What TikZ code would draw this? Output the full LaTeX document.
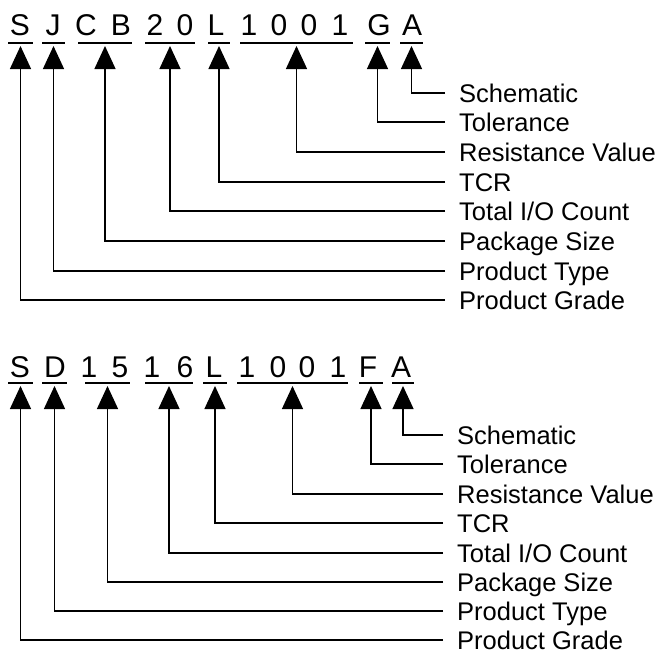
\documentclass[tikz,border=0pt]{standalone}
\usepackage{fontspec}
\setmainfont{Liberation Sans}
\usetikzlibrary{arrows.meta}

\begin{document}
\begin{tikzpicture}[x=1pt,y=-1pt,
  code/.style={font=\fontsize{30}{30}\selectfont,anchor=base,inner sep=0pt},
  lab/.style={font=\fontsize{25.5}{25.5}\selectfont,anchor=west,inner xsep=14pt,inner ysep=0pt,text height=18pt,text depth=0pt},
  bar/.style={line width=2.2pt},
  lead/.style={line width=1.3pt,-{Triangle[length=23pt,width=21pt]}}]
\useasboundingbox (0,0) rectangle (663,651);

% upper part number
\foreach \ch/\x [count=\i] in {S/20,J/53,C/86,B/121,2/155,0/185,L/216,1/249,0/279,0/309,1/340,G/379,A/412}
  \node[code] (u\i) at (\x,35) {\ch};

\draw[bar] (8,43) -- coordinate (ug1) (33,43);
\draw[bar] (42,43) -- coordinate (ug2) (65,43);
\draw[bar] (78,43) -- coordinate (ug3) (132,43);
\draw[bar] (145,43) -- coordinate (ug4) (195,43);
\draw[bar] (208,43) -- coordinate (ug5) (230,43);
\draw[bar] (240,43) -- coordinate (ug6) (353,43);
\draw[bar] (365,43) -- coordinate (ug7) (390,43);
\draw[bar] (400,43) -- coordinate (ug8) (423,43);

\node[lab] (ut8) at (445,93) {Schematic};
\node[lab] (ut7) at (445,122) {Tolerance};
\node[lab] (ut6) at (445,152) {Resistance Value};
\node[lab] (ut5) at (445,182) {TCR};
\node[lab] (ut4) at (445,211) {Total I/O Count};
\node[lab] (ut3) at (445,241) {Package Size};
\node[lab] (ut2) at (445,271) {Product Type};
\node[lab] (ut1) at (445,300) {Product Grade};

\draw[lead] (ut1.west) -| ([yshift=-3pt]ug1);
\draw[lead] (ut2.west) -| ([yshift=-3pt]ug2);
\draw[lead] (ut3.west) -| ([yshift=-3pt]ug3);
\draw[lead] (ut4.west) -| ([yshift=-3pt]ug4);
\draw[lead] (ut5.west) -| ([yshift=-3pt]ug5);
\draw[lead] (ut6.west) -| ([yshift=-3pt]ug6);
\draw[lead] (ut7.west) -| ([yshift=-3pt]ug7);
\draw[lead] (ut8.west) -| ([yshift=-3pt]ug8);

% lower part number
\foreach \ch/\x [count=\i] in {S/20,D/55,1/89,5/120,1/152,6/185,L/214,1/247,0/278,0/307,1/338,F/368,A/401}
  \node[code] (l\i) at (\x,377) {\ch};

\draw[bar] (8,383) -- coordinate (lg1) (33,383);
\draw[bar] (42,383) -- coordinate (lg2) (67,383);
\draw[bar] (85,383) -- coordinate (lg3) (130,383);
\draw[bar] (145,383) -- coordinate (lg4) (193,383);
\draw[bar] (203,383) -- coordinate (lg5) (227,383);
\draw[bar] (237,383) -- coordinate (lg6) (348,383);
\draw[bar] (359,383) -- coordinate (lg7) (383,383);
\draw[bar] (392,383) -- coordinate (lg8) (414,383);

\node[lab] (lt8) at (443,435) {Schematic};
\node[lab] (lt7) at (443,464) {Tolerance};
\node[lab] (lt6) at (443,494) {Resistance Value};
\node[lab] (lt5) at (443,523) {TCR};
\node[lab] (lt4) at (443,553) {Total I/O Count};
\node[lab] (lt3) at (443,582) {Package Size};
\node[lab] (lt2) at (443,611) {Product Type};
\node[lab] (lt1) at (443,640) {Product Grade};

\draw[lead] (lt1.west) -| ([yshift=-3pt]lg1);
\draw[lead] (lt2.west) -| ([yshift=-3pt]lg2);
\draw[lead] (lt3.west) -| ([yshift=-3pt]lg3);
\draw[lead] (lt4.west) -| ([yshift=-3pt]lg4);
\draw[lead] (lt5.west) -| ([yshift=-3pt]lg5);
\draw[lead] (lt6.west) -| ([yshift=-3pt]lg6);
\draw[lead] (lt7.west) -| ([yshift=-3pt]lg7);
\draw[lead] (lt8.west) -| ([yshift=-3pt]lg8);

\end{tikzpicture}
\end{document}
